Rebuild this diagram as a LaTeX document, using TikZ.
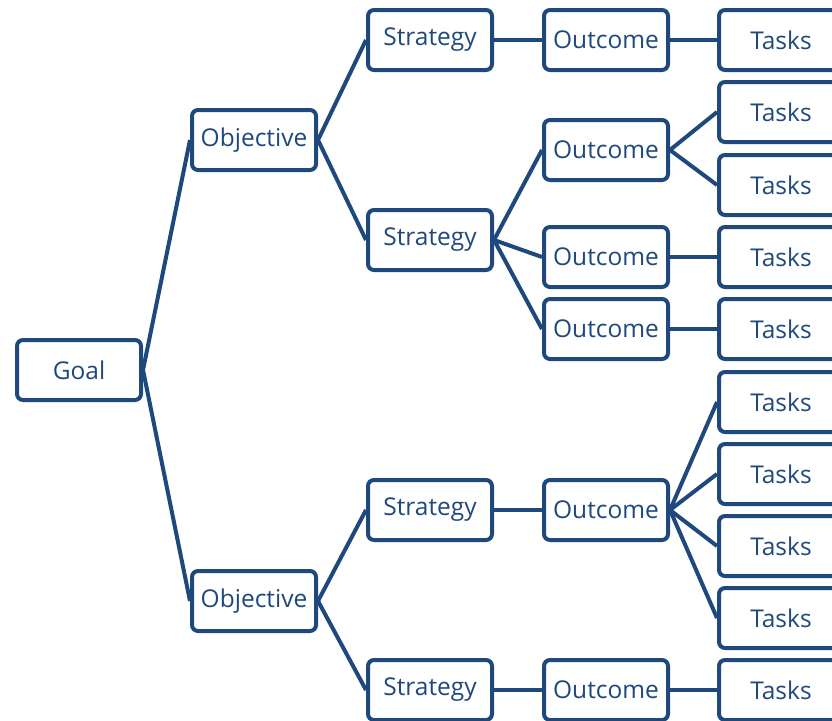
\documentclass[tikz,border=0pt]{standalone}
\usepackage{fontspec}
\setmainfont{Open Sans}
\definecolor{planblue}{RGB}{31,73,125}
\begin{document}
\begin{tikzpicture}[x=1pt,y=-1pt,
  box/.style={draw=planblue,line width=4pt,rounded corners=6pt,fill=white,
    text=planblue,minimum width=124pt,minimum height=60pt,inner sep=0pt,
    font=\fontsize{24.5}{28}\selectfont},
  link/.style={draw=planblue,line width=4pt}]
\useasboundingbox (0,0) rectangle (832,720);
\clip (0,0) rectangle (832,720);

% goal and objectives
\node[box] (goal) at (79,370) {Goal};
\node[box] (obj1) at (254,140) {Objective};
\node[box] (obj2) at (254,601) {Objective};

% strategies
\node[box] (str1) at (430,40) {Strategy};
\node[box] (str2) at (430,240) {Strategy};
\node[box] (str3) at (430,510) {Strategy};
\node[box] (str4) at (430,690) {Strategy};

% outcomes
\foreach \n/\y in {1/40,2/150,3/257,4/329,5/510,6/690} {
  \node[box] (out\n) at (606,\y) {Outcome};
}

% tasks (cut off at the right edge)
\foreach \n/\y in {1/40,2/112,3/185,4/257,5/329,6/402,7/474,8/546,9/618,10/690} {
  \node[box] (task\n) at (781,\y) {Tasks};
}

% connectors
\foreach \a/\b in {goal/obj1,goal/obj2,obj1/str1,obj1/str2,obj2/str3,obj2/str4,
  str1/out1,str2/out2,str2/out3,str2/out4,str3/out5,str4/out6,
  out1/task1,out2/task2,out2/task3,out3/task4,out4/task5,
  out5/task6,out5/task7,out5/task8,out5/task9,out6/task10} {
  \draw[link] (\a.east) -- (\b.west);
}
\end{tikzpicture}
\end{document}
